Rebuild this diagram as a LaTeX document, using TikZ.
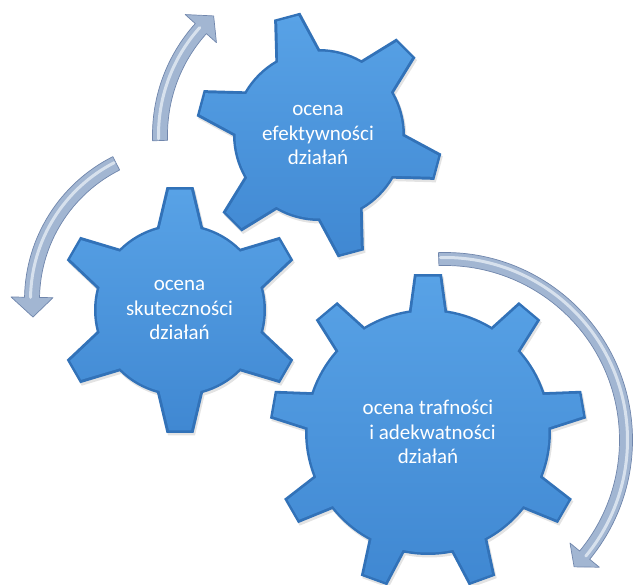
\documentclass[tikz,border=0pt]{standalone}
\usepackage{fontspec}
\setmainfont{Carlito}
\usetikzlibrary{shadows}
\definecolor{gearedge}{RGB}{50,114,184}
\definecolor{geartop}{RGB}{88,162,230}
\definecolor{gearbot}{RGB}{64,136,210}
\definecolor{arrowfill}{RGB}{162,182,210}
\definecolor{arrowedge}{RGB}{112,134,172}
\definecolor{arrowhi}{RGB}{234,240,247}
\tikzset{
  gearouter/.style={fill=gearedge, drop shadow={opacity=0.22, shadow xshift=1.5pt, shadow yshift=-2.5pt}},
  gearinner/.style={top color=geartop, bottom color=gearbot},
  geartext/.style={text=white, font=\fontsize{21}{24.5}\selectfont, align=center, inner sep=0pt},
  arrowbody/.style={fill=arrowfill, draw=arrowedge, line width=0.7pt, line join=round},
  arrowshine/.style={draw=arrowhi, line width=3pt, opacity=0.75, line cap=round},
}
% #1 options, #2 centre, #3 teeth, #4 offset, #5 body r, #6 tip r, #7 tip half width, #8 base half width
\newcommand{\gearshape}[8]{%
  \pgfmathsetmacro\gstep{360/#3}%
  \pgfmathsetmacro\gab{asin(#8/#5)}%
  \pgfmathsetmacro\gat{atan(#7/#6)}%
  \pgfmathsetmacro\grt{veclen(#6,#7)}%
  \pgfmathtruncatemacro\gnm{#3-1}%
  \path[#1,shift={#2}] ({#4-\gab}:#5)
    \foreach \k in {0,...,\gnm}{
      -- ({#4+\k*\gstep-\gab}:#5) -- ({#4+\k*\gstep-\gat}:\grt)
      -- ({#4+\k*\gstep+\gat}:\grt) -- ({#4+\k*\gstep+\gab}:#5)
      arc[start angle={#4+\k*\gstep+\gab}, end angle={#4+(\k+1)*\gstep-\gab}, radius=#5]
    } -- cycle;
}
% #1 centre, #2 r, #3 half width, #4 tail angle, #5 head base angle, #6 tip angle, #7 wing half width
\newcommand{\cycarrow}[7]{%
  \pgfmathsetmacro\aro{#2+#3}%
  \pgfmathsetmacro\ari{#2-#3}%
  \pgfmathsetmacro\arwo{#2+#7}%
  \pgfmathsetmacro\arwi{#2-#7}%
  \pgfmathsetmacro\arsh{#2+1.5}%
  \pgfmathsetmacro\arsa{#4+0.6*(#5-#4)/abs(#5-#4)}%
  \path[arrowbody,shift={#1}] ({#4}:\aro) arc[start angle=#4, end angle=#5, radius=\aro]
    -- ({#5}:\arwo) -- ({#6}:#2) -- ({#5}:\arwi) -- ({#5}:\ari)
    arc[start angle=#5, end angle=#4, radius=\ari] -- cycle;
  \path[arrowshine,shift={#1}] ({\arsa}:\arsh) arc[start angle=\arsa, end angle=#5, radius=\arsh];
}
\begin{document}
\begin{tikzpicture}[x=1pt,y=1pt]
\useasboundingbox (0,0) rectangle (634,-585);
\clip (0,0) rectangle (634,-585);
% gears
\gearshape{gearouter}{(319,-135)}{6}{105}{86}{123}{13.5}{23}
\gearshape{gearinner}{(319,-135)}{6}{105}{83.5}{120.5}{11}{20.5}
\gearshape{gearouter}{(180,-310)}{6}{90}{86}{123}{13.5}{23}
\gearshape{gearinner}{(180,-310)}{6}{90}{83.5}{120.5}{11}{20.5}
\gearshape{gearouter}{(428,-432)}{9}{90}{123}{158}{14}{19}
\gearshape{gearinner}{(428,-432)}{9}{90}{120.5}{155.5}{11.5}{16.5}
% arrows
\cycarrow{(319,-135)}{159}{7.5}{182}{138}{131.5}{21}
\cycarrow{(185,-300)}{153}{7.5}{116.7}{179}{186.4}{21}
\cycarrow{(445,-440)}{181}{6.5}{92}{-39.5}{-44.5}{19}
% texts
\node[geartext] (t1) at (318,-135) {ocena\\efektywności\\działań};
\node[geartext] (t2) at (179.5,-310) {ocena\\skuteczności\\działań};
\node[geartext] (t3) at (428,-432) {ocena trafności\\\hspace*{9pt}i adekwatności\\działań};
\end{tikzpicture}
\end{document}
